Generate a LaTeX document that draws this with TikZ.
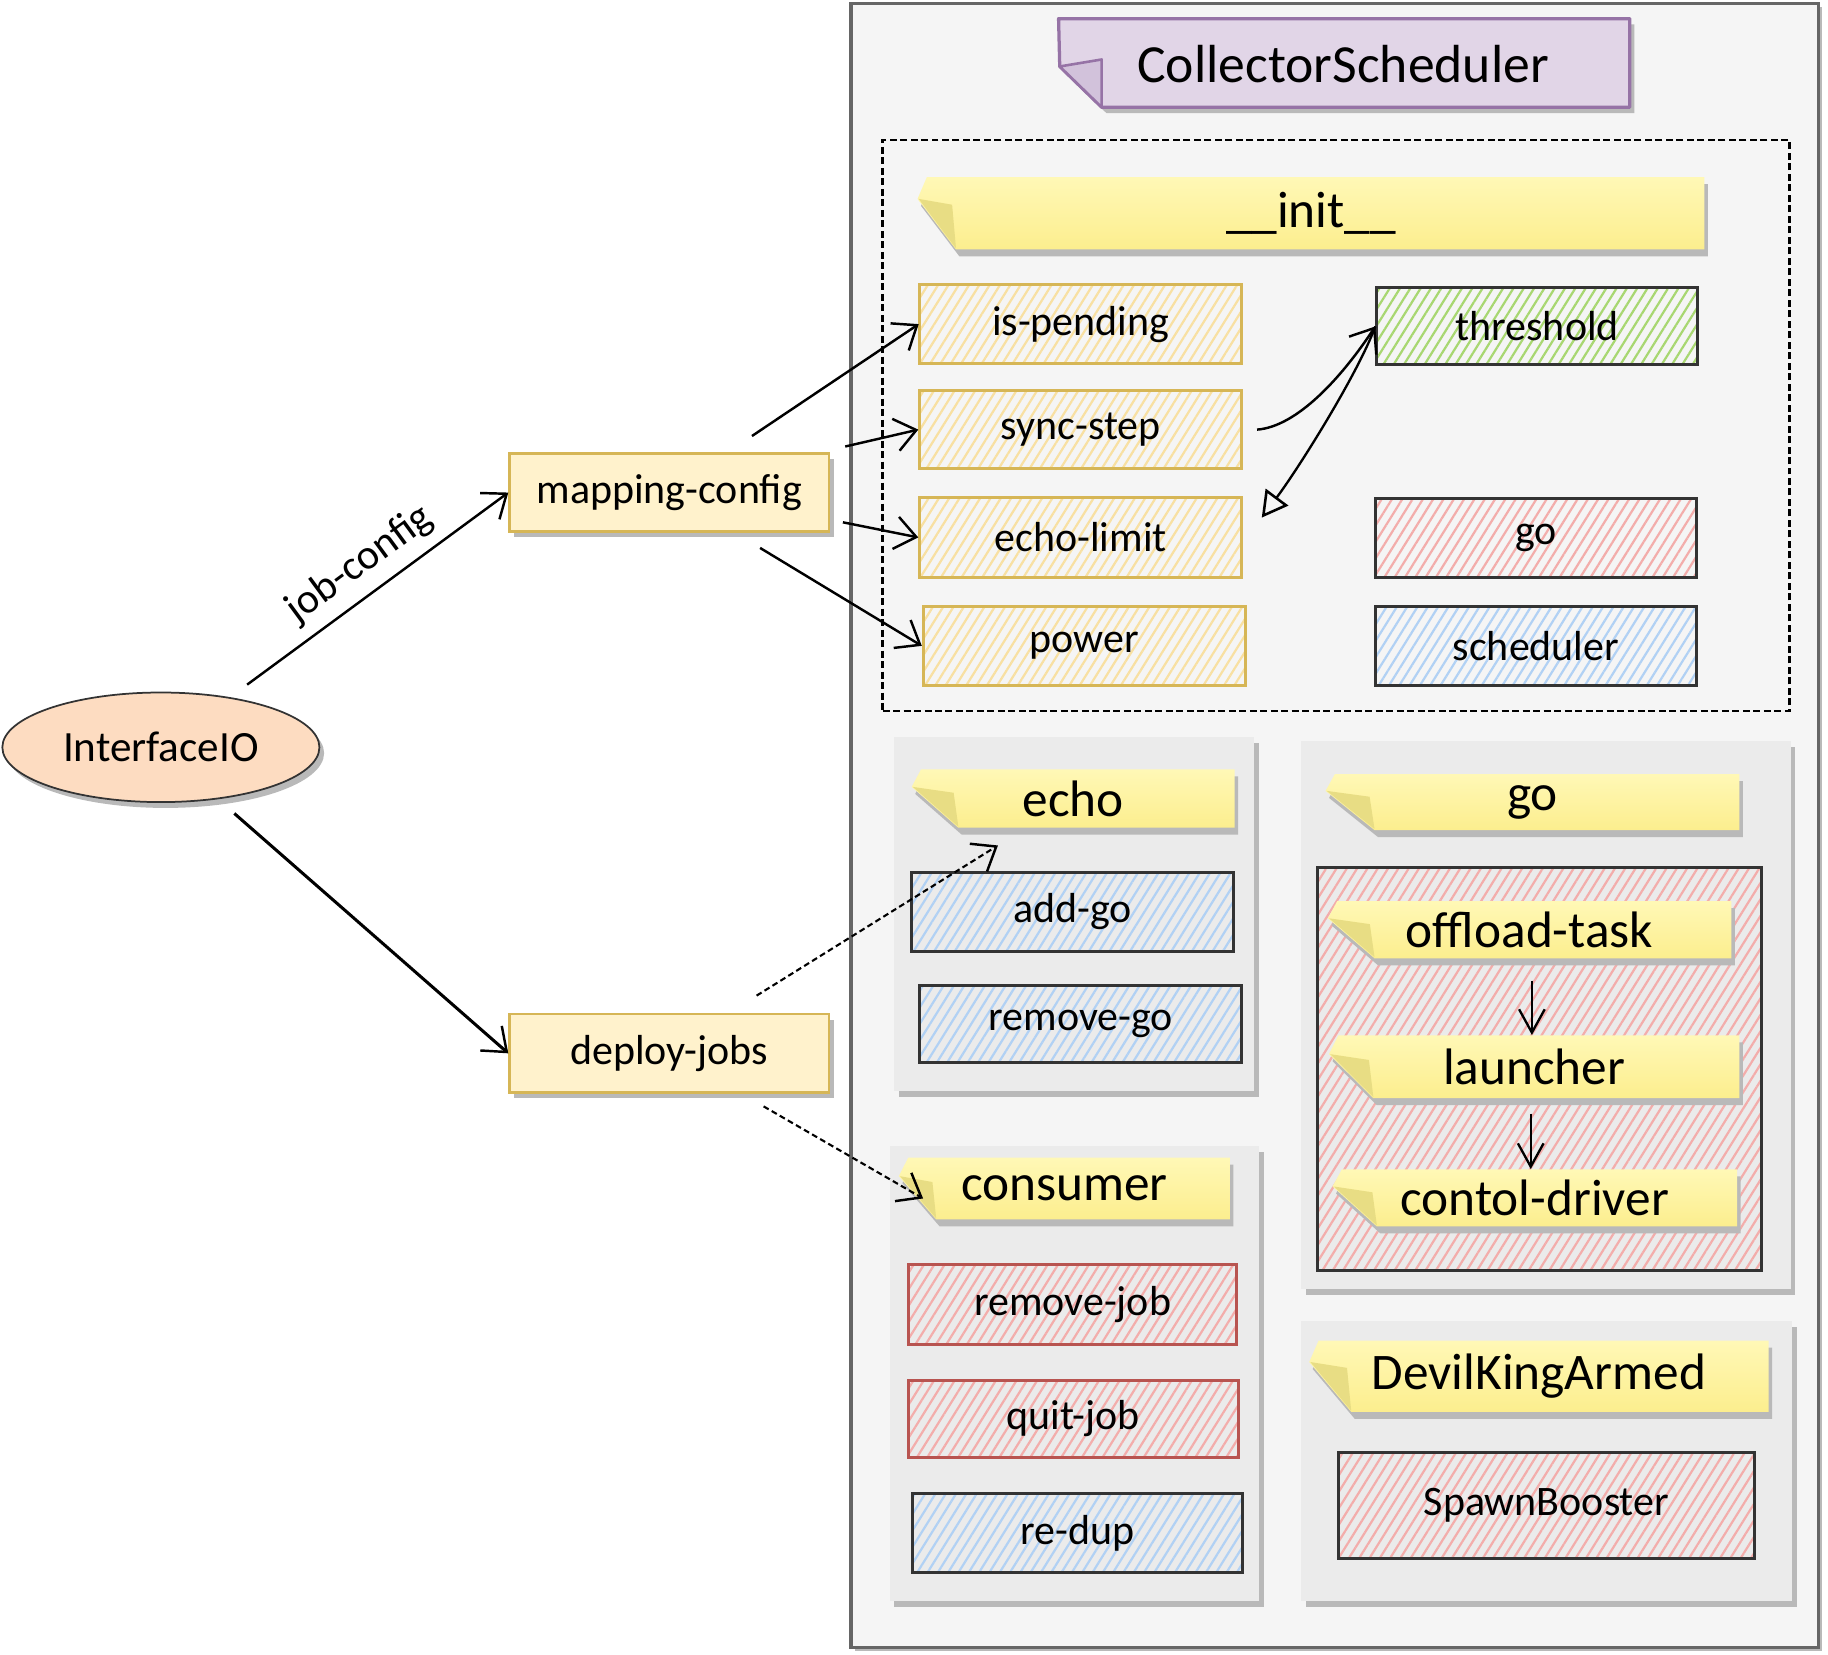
\documentclass[tikz,border=0pt]{standalone}
\usepackage{fontspec}
\setmainfont{Carlito}
\usetikzlibrary{arrows.meta,patterns.meta,shadows,shapes.geometric}

\definecolor{framebg}{HTML}{F5F5F5}
\definecolor{framedraw}{HTML}{666666}
\definecolor{groupbg}{HTML}{EBEBEB}
\definecolor{shadowgray}{HTML}{B9B9B9}
\definecolor{ystroke}{HTML}{D6B656}
\definecolor{yfill}{HTML}{FFF2CC}
\definecolor{yhatch}{HTML}{F8E0A2}
\definecolor{ghatch}{HTML}{A8D771}
\definecolor{rhatch}{HTML}{F3ADAB}
\definecolor{bhatch}{HTML}{B1D1F4}
\definecolor{rstroke}{HTML}{B85450}
\definecolor{dstroke}{HTML}{333333}
\definecolor{notetop}{HTML}{FFF8B6}
\definecolor{notebot}{HTML}{FCEE8E}
\definecolor{notefold}{HTML}{E8DD84}
\definecolor{purfill}{HTML}{E1D5E7}
\definecolor{purdraw}{HTML}{9673A6}
\definecolor{purfold}{HTML}{D2C2DB}
\definecolor{peach}{HTML}{FDDCC1}

\tikzset{
  sz/.style 2 args={minimum width=#1pt, minimum height=#2pt, inner sep=0pt},
  txt/.style={font=\fontsize{36}{40}\selectfont},
  notefont/.style={font=\fontsize{44}{48}\selectfont},
  shd/.style={general shadow={fill=shadowgray, shadow xshift=4pt, shadow yshift=-5pt}},
  hatch/.style={pattern={Lines[angle=58,distance=7.5pt,line width=1.9pt]}, pattern color=#1},
  ybox/.style={txt, draw=ystroke, line width=2.6pt, hatch=yhatch},
  gbox/.style={txt, draw=dstroke, line width=2.6pt, hatch=ghatch},
  rdbox/.style={txt, draw=dstroke, line width=2.6pt, hatch=rhatch},
  rrbox/.style={txt, draw=rstroke, line width=2.6pt, hatch=rhatch},
  bdbox/.style={txt, draw=dstroke, line width=2.6pt, hatch=bhatch},
  plainbox/.style={txt, draw=ystroke, line width=2pt, fill=yfill, shd},
  grp/.style={fill=groupbg, shd},
  arr/.style={line width=2.1pt, -{Straight Barb[length=18pt,width=28pt,line width=2.1pt]}},
  arrn/.style={line width=2.1pt, -{Straight Barb[length=20pt,width=22pt,line width=2pt]}},
  dsh/.style={arr, line width=1.8pt, dash pattern=on 5pt off 3pt},
}

% yellow sticky note: name, left, top, right, bottom, fold width, text
\newcommand\stickynote[7]{%
  \fill[shadowgray, shift={(3,6)}] (#2,{#3+0.3*(#5-#3)}) -- ({#2+8},#3) -- (#4,#3) -- (#4,#5) -- ({#2+#6},#5) -- cycle;
  \shade[top color=notetop, bottom color=notebot] (#2,{#3+0.3*(#5-#3)}) -- ({#2+8},#3) -- (#4,#3) -- (#4,#5) -- ({#2+#6},#5) -- cycle;
  \fill[notefold] ({#2+1},{#3+0.3*(#5-#3)}) -- ({#2+0.9*#6},{#3+0.3*(#5-#3)+5}) -- ({#2+#6},{#5-1}) -- cycle;
  \node[notefont, minimum width={(#4-#2)*1pt}, minimum height={(#5-#3)*1pt}, inner sep=0pt] (#1) at ({(#2+#4)/2},{(#3+#5)/2}) {#7};
}

\begin{document}
\begin{tikzpicture}[x=1pt, y=-1pt]
\useasboundingbox (0,0) rectangle (1568,1419);

% main container
\node[draw=framedraw, line width=3pt, fill=framebg, sz={830}{1410},
      general shadow={fill=shadowgray, shadow xshift=3pt, shadow yshift=-3pt}] (frame) at (1145,708) {};

% title note
\fill[shadowgray, shift={(4,5)}] (908,16) -- (1398,16) -- (1398,92) -- (945,92) -- (909,57) -- cycle;
\filldraw[fill=purfill, draw=purdraw, line width=2.8pt, line join=round] (908,16) -- (1398,16) -- (1398,92) -- (945,92) -- (909,57) -- cycle;
\filldraw[fill=purfold, draw=purdraw, line width=2.2pt, line join=round] (909,57) -- (945,51) -- (945,92) -- cycle;
\node[font=\fontsize{46}{50}\selectfont, inner sep=0pt] (title) at (1152,55) {CollectorScheduler};

% __init__ block
\node[draw=black, line width=2pt, dash pattern=on 6pt off 3pt, sz={778}{490}] (initgrp) at (1146,365) {};
\stickynote{init}{787}{152}{1462}{214}{33}{\_\_init\_\_}

\node[ybox, sz={276}{68}] (ip) at (927,278) {is-pending};
\node[ybox, sz={276}{67}] (ss) at (927,368.5) {sync-step};
\node[ybox, sz={276}{68}] (el) at (927,461) {echo-limit};
\node[ybox, sz={276}{68}] (pw) at (930,554) {power};
\node[gbox, sz={275}{66}] (th) at (1318.5,280) {threshold};
\node[rdbox, sz={275}{67}] (gob) at (1317.5,461.5) {go};
\node[bdbox, sz={275}{68}] (sch) at (1317.5,554) {scheduler};

% echo group
\node[grp, sz={309}{304}] (echogrp) at (921.5,784) {};
\stickynote{echo}{782}{660}{1059}{710}{40}{echo}
\node[bdbox, sz={276}{68}] (ag) at (920,782) {add-go};
\node[bdbox, sz={276}{66}] (rg) at (927,878) {remove-go};

% consumer group
\node[grp, sz={317}{390}] (congrp) at (921.5,1178) {};
\stickynote{cons}{771}{993}{1055}{1046}{32}{consumer}
\node[rrbox, sz={282}{68}] (rj) at (920,1119) {remove-job};
\node[rrbox, sz={283}{66}] (qj) at (920.5,1217) {quit-job};
\node[bdbox, sz={283}{68}] (rd) at (924.5,1315) {re-dup};

% go group
\node[grp, sz={420}{470}] (gogrp) at (1326,871) {};
\stickynote{gonote}{1137}{664}{1492}{712}{42}{go}
\node[rdbox, sz={381}{346}] (gobody) at (1320.5,917) {};
\stickynote{ot}{1139}{773}{1485}{822}{40}{offload-task}
\stickynote{la}{1140}{888}{1492}{942}{38}{launcher}
\stickynote{cd}{1143}{1003}{1490}{1052}{38}{contol-driver}

% DevilKingArmed group
\node[grp, sz={421}{240}] (dkgrp) at (1326.5,1253) {};
\stickynote{dk}{1123}{1150}{1517}{1211}{36}{DevilKingArmed}
\node[rdbox, sz={357}{91}] (sb) at (1326.5,1291.5) {SpawnBooster};

% left-hand nodes
\node[ellipse, draw=dstroke, line width=1.5pt, fill=peach, shd, sz={272}{94}, font=\fontsize{37}{40}\selectfont] (io) at (138,641) {InterfaceIO};
\node[plainbox, sz={274}{67}] (mc) at (574,422.5) {mapping-config};
\node[plainbox, sz={274}{67}] (dj) at (574,903.5) {deploy-jobs};

% connectors
\draw[arr] ([xshift=74pt,yshift=6pt]io.north) -- node[midway, sloped, above=6pt, txt] (jc) {job-config} (mc.west);
\draw[arr, line width=2.6pt] ([xshift=63pt,yshift=-9pt]io.south) -- (dj.west);

\draw[arr] ([xshift=71pt,yshift=14pt]mc.north) -- (ip.west);
\draw[arr] ([xshift=13pt,yshift=5pt]mc.north east) -- (ss.west);
\draw[arr] ([xshift=11pt,yshift=-25.5pt]mc.east) -- (el.west);
\draw[arr] ([xshift=78pt,yshift=-13pt]mc.south) -- (pw.west);

\draw[arr] ([xshift=12pt]ss.east) .. controls (1112,366) and (1150,325) .. (th.west);
\draw[line width=2pt, -{Triangle[open,length=22pt,width=24pt,line width=2.2pt]}]
  (th.west) .. controls (1165,320) and (1115,400) .. ([xshift=16pt,yshift=17pt]el.east);

\draw[dsh] ([xshift=75pt,yshift=15pt]dj.north) -- ([xshift=-64.5pt,yshift=-15pt]echo.south);
\draw[dsh] ([xshift=81pt,yshift=-11pt]dj.south) -- ([xshift=21pt,yshift=-8.5pt]cons.west);

\draw[arrn] ([xshift=2pt,yshift=-19pt]ot.south) -- ([xshift=-2pt]la.north);
\draw[arrn] ([xshift=-3pt,yshift=-13pt]la.south) -- ([xshift=-3.5pt]cd.north);
\end{tikzpicture}
\end{document}
